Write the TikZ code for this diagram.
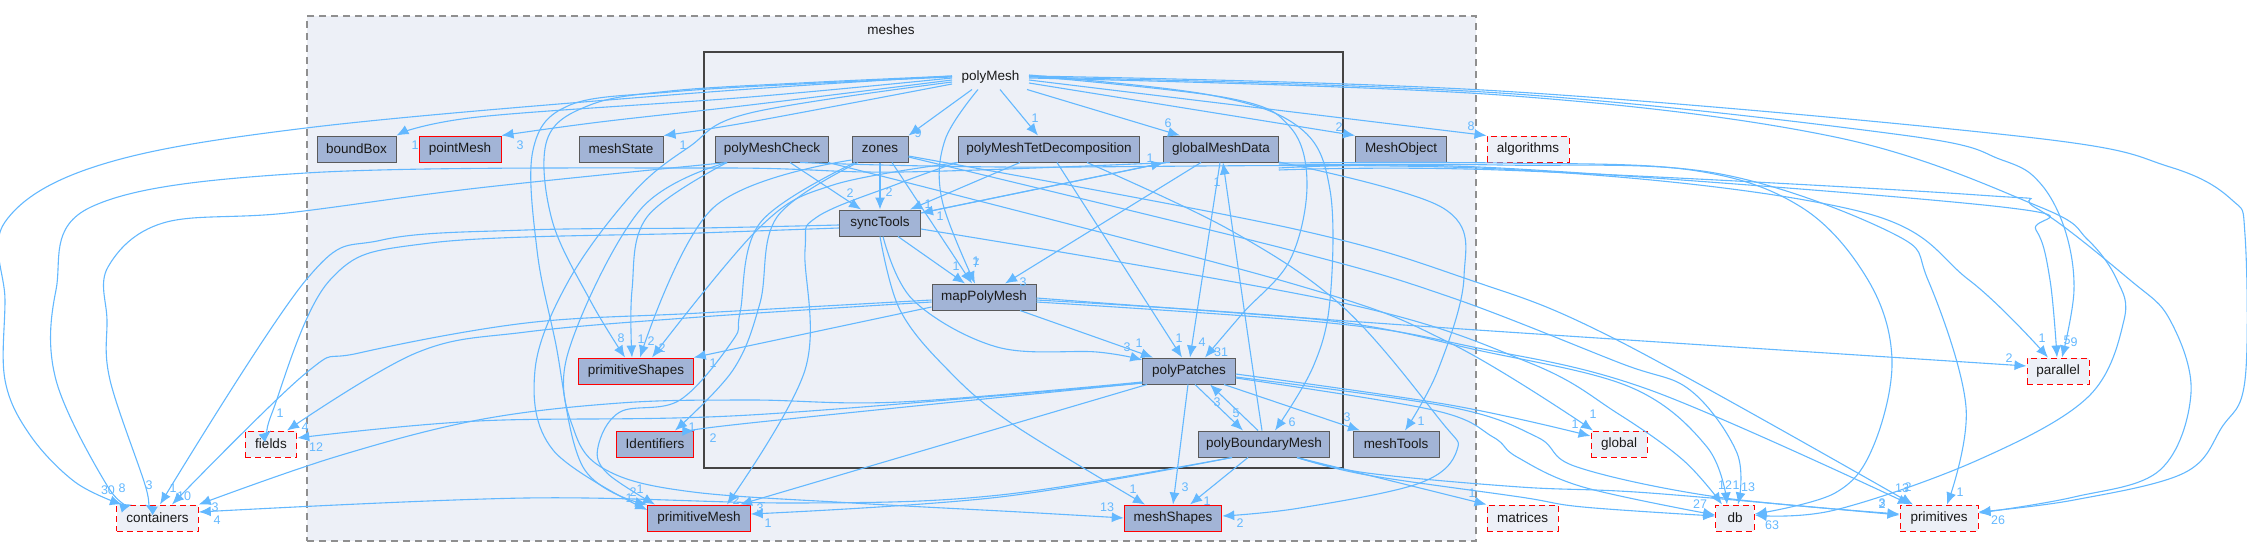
\documentclass[tikz,border=0pt]{standalone}
\usepackage{fontspec}
\setmainfont{Liberation Sans}
\usetikzlibrary{arrows.meta,calc}
\definecolor{edgeblue}{HTML}{63B8FF}
\definecolor{clfill}{HTML}{EDF0F7}
\definecolor{dirfill}{HTML}{A2B4D6}
\definecolor{dirline}{HTML}{5A5A5A}
\definecolor{clline}{HTML}{444444}
\definecolor{dashline}{HTML}{8F8F8F}
\definecolor{txt}{HTML}{1A1A1A}
\tikzset{
  base/.style={rectangle,inner sep=0pt,minimum height=26pt,font=\fontsize{13.5}{15}\selectfont,text=txt,line width=1pt},
  dirbox/.style={base,draw=dirline,fill=dirfill},
  redbox/.style={base,draw=red,fill=dirfill},
  dashbox/.style={base,draw=red,fill=clfill,dash pattern=on 6pt off 4pt},
  edge/.style={draw=edgeblue,line width=1.1pt,-{Latex[length=12pt,width=10pt]}},
  lbl/.style={inner sep=0pt,font=\fontsize{12.5}{14}\selectfont,text=edgeblue},
}
\newcommand{\E}[1]{\draw[edge] plot[smooth,tension=0.6] coordinates {#1};}
\begin{document}
\begin{tikzpicture}[x=1pt,y=-1pt]
\useasboundingbox (0,0) rectangle (2247,557);
% clusters
\node[draw=dashline,fill=clfill,dash pattern=on 7pt off 5pt,line width=1.2pt,inner sep=0pt,minimum width=1169pt,minimum height=525pt] (clMeshes) at (891.5,278.5) {};
\node[draw=clline,fill=clfill,line width=2pt,inner sep=0pt,minimum width=639pt,minimum height=416pt] (clPoly) at (1023.5,260) {};
\node[base] (meshes) at (891,30) {meshes};
\node[base,minimum width=76pt,minimum height=24pt] (polyMesh) at (990.5,77) {polyMesh};
% row 1
\node[dirbox,minimum width=79pt] (boundBox) at (356.5,149) {boundBox};
\node[redbox,minimum width=82pt] (pointMesh) at (460,149) {pointMesh};
\node[dirbox,minimum width=84pt] (meshState) at (621,149) {meshState};
\node[dirbox,minimum width=113.5pt] (polyMeshCheck) at (772,149) {polyMeshCheck};
\node[dirbox,minimum width=56pt] (zones) at (880,149) {zones};
\node[dirbox,minimum width=181.5pt] (polyMeshTet) at (1049,149) {polyMeshTetDecomposition};
\node[dirbox,minimum width=114.5pt] (globalMeshData) at (1221,149) {globalMeshData};
\node[dirbox,minimum width=91.5pt] (MeshObject) at (1401,149) {MeshObject};
\node[dashbox,minimum width=82pt] (algorithms) at (1528,149) {algorithms};
% others
\node[dirbox,minimum width=81pt] (syncTools) at (880,223) {syncTools};
\node[dirbox,minimum width=104pt] (mapPolyMesh) at (984,297) {mapPolyMesh};
\node[redbox,minimum width=114.5pt] (primitiveShapes) at (636,371) {primitiveShapes};
\node[dirbox,minimum width=92.5pt] (polyPatches) at (1189,371) {polyPatches};
\node[dashbox,minimum width=62pt] (parallel) at (2058,371) {parallel};
\node[dashbox,minimum width=51.5pt] (fields) at (271,444) {fields};
\node[redbox,minimum width=77.5pt] (Identifiers) at (655,444) {Identifiers};
\node[dirbox,minimum width=131pt] (polyBoundaryMesh) at (1264,444) {polyBoundaryMesh};
\node[dirbox,minimum width=86pt] (meshTools) at (1396,444) {meshTools};
\node[dashbox,minimum width=56pt] (global) at (1619,444) {global};
\node[dashbox,minimum width=81.5pt] (containers) at (157.5,518) {containers};
\node[redbox,minimum width=102.5pt] (primitiveMesh) at (699,518) {primitiveMesh};
\node[redbox,minimum width=97.5pt] (meshShapes) at (1173,518) {meshShapes};
\node[dashbox,minimum width=71pt] (matrices) at (1522.5,518) {matrices};
\node[dashbox,minimum width=38.5pt] (db) at (1735,518) {db};
\node[dashbox,minimum width=78pt] (primitives) at (1939,518) {primitives};
% --- edges from polyMesh
\E{(polyMesh.west |- 0,78) (750,97) (478,117) (boundBox.north east)}
\E{(polyMesh.west |- 0,80) (750,105) (600,122) (pointMesh.north east)}
\E{(polyMesh.west |- 0,84) (750,122) (meshState.north east)}
\E{(polyMesh.west |- 0,76) (670,95) (306,128) (100,165) (5,222) (5,300) (5,380) (30,435) (75,482) (122,0 |- containers.north)}
\E{(polyMesh.west |- 0,76) (800,83) (670,91) (590,105) (547,140) (552,220) (590,300) (625,0 |- primitiveShapes.north)}
\E{(polyMesh.west |- 0,77) (800,84) (670,92) (570,105) (533,150) (537,250) (555,340) (583,467) (primitiveMesh.north west)}
\E{(polyMesh.west |- 0,82) (750,113) (689,147) (633,193) (569,280) (535,370) (553,450) (primitiveMesh.west |- 0,510)}
\E{(972,0 |- polyMesh.south) (zones.north east)}
\E{(1000,0 |- polyMesh.south) (1038,0 |- polyMeshTet.north)}
\E{(1027,0 |- polyMesh.south) (1180,0 |- globalMeshData.north)}
\E{(978,0 |- polyMesh.south) (945,140) (942,200) (975,0 |- mapPolyMesh.north)}
\E{(polyMesh.east |- 0,83) (1355,0 |- MeshObject.north)}
\E{(polyMesh.east |- 0,80) (algorithms.north west)}
\E{(polyMesh.east |- 0,76) (1228,98) (1290,127) (1307,185) (1290,260) (1243,313) (1205,0 |- polyPatches.north)}
\E{(polyMesh.east |- 0,75) (1210,95) (1300,128) (1330,190) (1330,300) (1313,367) (1275,0 |- polyBoundaryMesh.north)}
\E{(polyMesh.east |- 0,76) (1500,91) (2026,137) (2170,167) (2232,200) (2245,235) (2245,380) (2222,427) (2184,473) (2074,500) (primitives.east |- 0,512)}
\E{(polyMesh.east |- 0,77) (1500,93) (1902,135) (2002,160) (2040,183) (2065,230) (2074,290) (2062,0 |- parallel.north)}
\E{(polyMesh.east |- 0,78) (1500,95) (1835,137) (2040,207) (2088,240) (2117,280) (2124,320) (2088,397) (1978,460) (1835,510) (db.east |- 0,515)}
% --- polyMeshCheck
\E{(727,0 |- polyMeshCheck.south) (647,217) (632,290) (632,0 |- primitiveShapes.north)}
\E{(727,0 |- polyMeshCheck.south) (478,188) (287,213) (163,223) (108,267) (107,320) (110,380) (146,488) (145,0 |- containers.north)}
\E{(727,0 |- polyMeshCheck.south) (640,210) (568,353) (575,433) (610,472) (693,492) (853,503) (1020,512) (meshShapes.west |- 0,518)}
\E{(790,0 |- polyMeshCheck.south) (861,0 |- syncTools.north)}
\E{(828,0 |- polyMeshCheck.south) (1290,283) (1450,343) (1593,0 |- global.north)}
\E{(800,0 |- polyMeshCheck.south) (1000,167) (1500,169) (1854,210) (1969,280) (2048,0 |- parallel.north)}
% --- zones
\E{(880,0 |- zones.south) (880,0 |- syncTools.north)}
\E{(892,0 |- zones.south) (972,0 |- mapPolyMesh.north)}
\E{(zones.west |- 0,160) (713,208) (640,0 |- primitiveShapes.north)}
\E{(855,0 |- zones.south) (760,223) (740,313) (733,340) (680,400) (620,412) (598,447) (607,473) (655,0 |- primitiveMesh.north)}
\E{(858,0 |- zones.south) (777,217) (760,303) (733,370) (675,0 |- Identifiers.north)}
\E{(zones.east |- 0,156) (1290,228) (1470,280) (1617,340) (1913,0 |- primitives.north)}
\E{(zones.east |- 0,157) (1290,250) (1450,297) (1620,363) (1690,390) (1737,453) (1738,0 |- db.north)}
% --- polyMeshTet
\E{(957,0 |- polyMeshTet.south) (900,183) (817,217) (805,250) (805,370) (727,0 |- primitiveMesh.north)}
\E{(958,0 |- polyMeshTet.south) (833,185) (760,227) (652,0 |- primitiveShapes.north)}
\E{(1020,0 |- polyMeshTet.south) (910,0 |- syncTools.north)}
\E{(1057,0 |- polyMeshTet.south) (1182,0 |- polyPatches.north)}
\E{(1087,0 |- polyMeshTet.south) (1230,230) (1343,307) (1440,420) (1457,450) (1420,483) (1300,508) (meshShapes.east |- 0,516)}
% --- globalMeshData
\E{(1201,0 |- globalMeshData.south) (1005,0 |- mapPolyMesh.north)}
\E{(1220,0 |- globalMeshData.south) (1190,0 |- polyPatches.north)}
\E{(1170,0 |- globalMeshData.south) (900,172) (717,168) (306,173) (91,207) (56,290) (56,380) (108,487) (132,0 |- containers.north)}
\E{(1166,0 |- globalMeshData.south) (syncTools.east |- 0,213)}
\E{(globalMeshData.east |- 0,162) (1443,208) (1464,277) (1438,370) (1405,0 |- meshTools.north)}
\E{(globalMeshData.east |- 0,163) (1500,163) (1691,170) (1801,207) (1868,280) (1892,360) (1873,447) (1835,493) (db.east |- 0,514)}
\E{(globalMeshData.east |- 0,165) (1500,165) (1715,173) (1892,233) (1928,280) (1966,407) (1947,0 |- primitives.north)}
\E{(globalMeshData.east |- 0,168) (1500,168) (2002,207) (2036,230) (2050,280) (2057,0 |- parallel.north)}
\E{(globalMeshData.east |- 0,170) (1500,170) (1978,195) (2036,208) (2130,280) (2170,320) (2191,393) (2160,470) (2074,497) (primitives.east |- 0,513)}
% --- syncTools
\E{(syncTools.west |- 0,225) (700,228) (526,230) (382,240) (306,280) (160,0 |- containers.north)}
\E{(syncTools.west |- 0,228) (700,233) (430,243) (330,280) (272,413) (271,0 |- fields.north)}
\E{(syncTools.east |- 0,213) (globalMeshData.west |- 0,163)}
\E{(880,0 |- syncTools.south) (900,310) (948,370) (1011,423) (1145,0 |- meshShapes.north)}
\E{(883,0 |- syncTools.south) (913,300) (997,347) (1097,352) (polyPatches.west |- 0,360)}
\E{(898,0 |- syncTools.south) (965,0 |- mapPolyMesh.north)}
\E{(syncTools.east |- 0,229) (1343,303) (1530,363) (1617,413) (1683,460) (1722,0 |- db.north)}
% --- mapPolyMesh
\E{(mapPolyMesh.west |- 0,300) (700,313) (526,323) (359,353) (306,373) (172,0 |- containers.north)}
\E{(mapPolyMesh.west |- 0,302) (700,317) (526,332) (416,353) (287,0 |- fields.north)}
\E{(mapPolyMesh.west |- 0,307) (primitiveShapes.north east)}
\E{(mapPolyMesh.east |- 0,298) (1197,310) (1477,330) (parallel.west |- 0,366)}
\E{(mapPolyMesh.east |- 0,300) (1323,320) (1477,350) (1630,387) (1707,447) (1727,0 |- db.north)}
\E{(mapPolyMesh.east |- 0,302) (1330,323) (1473,347) (1650,390) (1910,0 |- primitives.north)}
\E{(1020,0 |- mapPolyMesh.south) (1153,0 |- polyPatches.north)}
% --- polyPatches
\E{(polyPatches.west |- 0,382) (900,402) (750,400) (620,403) (478,420) (335,457) (containers.north east)}
\E{(polyPatches.west |- 0,383) (750,415) (478,421) (fields.east |- 0,438)}
\E{(polyPatches.west |- 0,383) (750,423) (Identifiers.east |- 0,431)}
\E{(1147,0 |- polyPatches.south) (740,0 |- primitiveMesh.north)}
\E{(polyPatches.east |- 0,374) (1450,405) (global.west |- 0,436)}
\E{(polyPatches.east |- 0,377) (1450,407) (1537,437) (1577,467) (1717,497) (primitives.west |- 0,514)}
\E{(polyPatches.east |- 0,378) (1433,410) (1493,437) (1517,457) (1583,487) (db.west |- 0,515)}
\E{(1224,0 |- polyPatches.south) (1360,0 |- meshTools.north)}
\E{(1188,0 |- polyPatches.south) (1173,0 |- meshShapes.north)}
\E{(1195,0 |- polyPatches.south) (1243,0 |- polyBoundaryMesh.north)}
% --- polyBoundaryMesh
\E{(1258,0 |- polyBoundaryMesh.north) (1210,0 |- polyPatches.south)}
\E{(1262,0 |- polyBoundaryMesh.north) (1250,350) (1223,0 |- globalMeshData.south)}
\E{(1248,0 |- polyBoundaryMesh.south) (1190,0 |- meshShapes.north)}
\E{(1232,0 |- polyBoundaryMesh.south) (1000,497) (primitiveMesh.east |- 0,514)}
\E{(1232,0 |- polyBoundaryMesh.south) (1000,495) (800,503) (526,498) (containers.east |- 0,512)}
\E{(1297,0 |- polyBoundaryMesh.south) (matrices.north west)}
\E{(1297,0 |- polyBoundaryMesh.south) (1367,473) (1520,487) (1650,493) (primitives.west |- 0,515)}
\E{(1297,0 |- polyBoundaryMesh.south) (1367,475) (1520,497) (1583,507) (db.west |- 0,516)}
% --- labels
\foreach \x/\y/\t [count=\i] in {
 415/145/1, 520/145/3, 683/145/1, 108/490/30, 122/488/8, 149/485/3, 173/488/1, 184/496/10, 215/507/3, 217/520/4,
 280/413/1, 305/427/4, 316/447/12, 621/338/8, 641/339/1, 651/341/2, 662/348/2, 713/363/1, 692/427/1, 713/438/2,
 633/492/2, 640/489/1, 629/498/1, 736/500/2, 760/508/3, 768/523/1, 1127/347/3, 1139/343/1, 1179/338/1, 1202/342/4, 1221/352/31,
 850/193/2, 889/192/2, 940/216/1, 928/204/1, 956/266/1, 976/263/7, 976/261/1, 1023/282/3,
 1347/417/3, 1421/421/1, 1133/489/1, 1107/507/13, 1185/487/3, 1207/501/1, 1240/523/2,
 1168/123/6, 1150/158/1, 1217/182/1, 1339/127/2, 1471/126/8, 1035/118/1, 918/133/9,
 1236/413/5, 1292/422/6, 1217/402/3, 1472/493/1,
 1725/485/12, 1736/485/1, 1748/487/13, 1772/525/63, 1700/504/27,
 1902/488/13, 1908/487/2, 1960/492/1, 1998/520/26, 1882/504/2, 1882/503/3,
 2009/358/2, 2042/338/1, 2067/340/5, 2074/342/9, 1593/414/1, 1575/424/1}
 {\node[lbl] (lab\i) at (\x,\y) {\t};}
\end{tikzpicture}
\end{document}
